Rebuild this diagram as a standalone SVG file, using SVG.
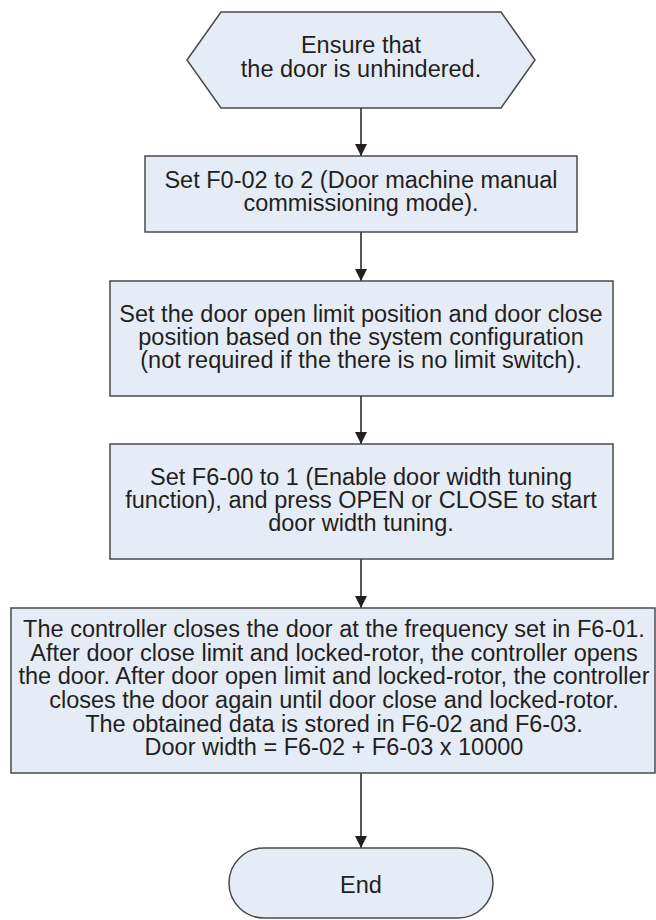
<svg xmlns="http://www.w3.org/2000/svg" width="656" height="920" viewBox="0 0 656 920">
<defs>
<marker id="ah" markerWidth="12" markerHeight="14" refX="12" refY="6" orient="auto" markerUnits="userSpaceOnUse">
<path d="M0,0 L12,6 L0,12 Z" fill="#231f20"/>
</marker>
<style>
.n{fill:#e6ecf6;stroke:#4a4a4a;stroke-width:1.5}
.t{font-family:"Liberation Sans",Arial,sans-serif;font-size:23.5px;fill:#231f20;text-anchor:middle}
.c{stroke:#231f20;stroke-width:1.5;fill:none;marker-end:url(#ah)}
</style>
</defs>
<rect width="656" height="920" fill="#ffffff"/>
<g id="connectors">
<line class="c" x1="361" y1="108" x2="361" y2="156"/>
<line class="c" x1="361" y1="232" x2="361" y2="281"/>
<line class="c" x1="361" y1="396" x2="361" y2="444"/>
<line class="c" x1="361" y1="559" x2="361" y2="608"/>
<line class="c" x1="361" y1="773" x2="361" y2="848"/>
</g>
<g id="start">
<polygon class="n" points="187,60 221,12 501,12 535,60 501,108 221,108"/>
<text class="t" x="361" y="53">Ensure that</text>
<text class="t" x="361" y="77">the door is unhindered.</text>
</g>
<g id="step1">
<rect class="n" x="145" y="156" width="432" height="76"/>
<text class="t" x="361" y="188">Set F0-02 to 2 (Door machine manual</text>
<text class="t" x="361" y="211">commissioning mode).</text>
</g>
<g id="step2">
<rect class="n" x="110" y="281" width="503" height="115"/>
<text class="t" x="361" y="322">Set the door open limit position and door close</text>
<text class="t" x="361" y="345">position based on the system configuration</text>
<text class="t" x="361" y="368">(not required if the there is no limit switch).</text>
</g>
<g id="step3">
<rect class="n" x="110" y="444" width="503" height="115"/>
<text class="t" x="361" y="485">Set F6-00 to 1 (Enable door width tuning</text>
<text class="t" x="361" y="508">function), and press OPEN or CLOSE to start</text>
<text class="t" x="361" y="531">door width tuning.</text>
</g>
<g id="step4">
<rect class="n" x="11" y="608" width="644" height="165"/>
<text class="t" x="334" y="637">The controller closes the door at the frequency set in F6-01.</text>
<text class="t" x="334" y="661">After door close limit and locked-rotor, the controller opens</text>
<text class="t" x="334" y="684">the door. After door open limit and locked-rotor, the controller</text>
<text class="t" x="334" y="708">closes the door again until door close and locked-rotor.</text>
<text class="t" x="334" y="732">The obtained data is stored in F6-02 and F6-03.</text>
<text class="t" x="334" y="755">Door width = F6-02 + F6-03 x 10000</text>
</g>
<g id="end">
<rect class="n" x="229" y="848" width="264" height="70" rx="35" ry="35"/>
<text class="t" x="361" y="893">End</text>
</g>
</svg>
